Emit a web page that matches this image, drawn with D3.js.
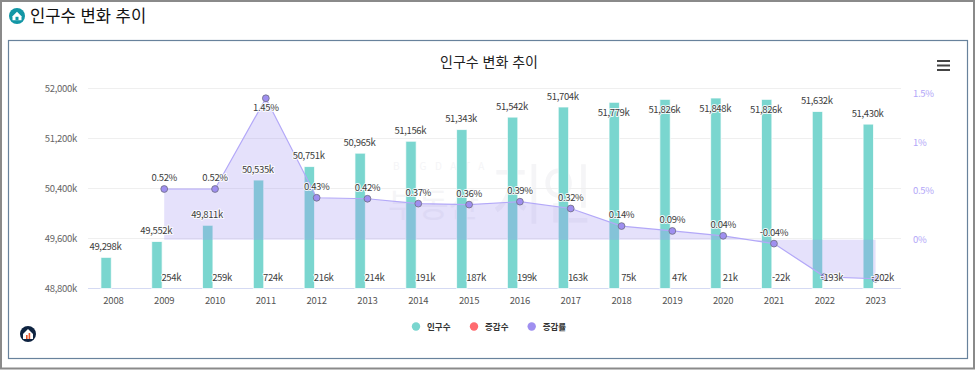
<!DOCTYPE html>
<html lang="ko">
<head>
<meta charset="utf-8">
<script src="https://cdnjs.cloudflare.com/ajax/libs/d3/7.8.5/d3.min.js"></script>
<style>
html,body{margin:0;padding:0;background:#fff;overflow:hidden}
svg{display:block}
text{font-family:"Noto Sans CJK KR","Noto Sans",sans-serif}
.lbl{font-size:9.5px;fill:#3d3d3d;letter-spacing:-.35px;text-anchor:middle;paint-order:stroke;stroke:#fff;stroke-width:2px;stroke-opacity:.85;stroke-linejoin:round}
</style>
</head>
<body>
<svg id="c" width="975" height="370"></svg>
<script>
const years = ["2008","2009","2010","2011","2012","2013","2014","2015","2016","2017","2018","2019","2020","2021","2022","2023"];
const population = [49298,49552,49811,50535,50751,50965,51156,51343,51542,51704,51779,51826,51848,51826,51632,51430];
const changeCount = [null,254,259,724,216,214,191,187,199,163,75,47,21,-22,-193,-202];
const changeRate = [null,0.52,0.52,1.45,0.43,0.42,0.37,0.36,0.39,0.32,0.14,0.09,0.04,-0.04,-0.38,-0.40];
const leftTicks = [48800,49600,50400,51200,52000];
const rightTicks = [0,0.5,1,1.5];
const legendNames = ["인구수","증감수","증감률"];
const legendColors = ["#7ad6cf","#ff6b6f","#9f8ff0"];
const pageTitle = "인구수 변화 추이";

const svg = d3.select("#c");
const pL=88, pR=901, pT=88.5, pB=288.5;
const x = d3.scaleBand().domain(years).range([pL,pR]);
const y = d3.scaleLinear().domain([48800,52000]).range([pB,pT]);
const yR = d3.scaleLinear().domain([-0.5,1.55]).range([pB,pT]);
const cx = d => x(d)+x.bandwidth()/2;

// frames
svg.append("rect").attr("x",1).attr("y",1).attr("width",973).attr("height",367.5).attr("fill","#fff").attr("stroke","#8a8a8a").attr("stroke-width",2);
svg.append("rect").attr("x",8.5).attr("y",40.5).attr("width",959).attr("height",318).attr("fill","#fff").attr("stroke","#68829c").attr("stroke-width",1.2);

// page heading + icon
const ic = svg.append("g").attr("transform","translate(17,16)");
ic.append("circle").attr("r",8).attr("fill","#1296a5");
ic.append("path").attr("d","M-4.5,0.2L0,-4.2L4.5,0.2V4.2H-4.5Z").attr("fill","#fff");
ic.append("rect").attr("x",-1.5).attr("y",0.8).attr("width",3).attr("height",3.4).attr("fill","#1296a5");
svg.append("text").attr("x",30).attr("y",22).attr("font-size",16.6).attr("fill","#111").text(pageTitle);

// chart title
svg.append("text").attr("x",489).attr("y",67).attr("text-anchor","middle").attr("font-size",14).attr("fill","#222").text(pageTitle);

// menu icon
[61,65.5,70].forEach(v=>svg.append("rect").attr("x",937).attr("y",v-1).attr("width",13).attr("height",2).attr("fill","#444"));

// watermark
const wm = svg.append("g").attr("fill","#f5f5f7");
wm.append("text").attr("x",393).attr("y",170).attr("font-size",10).attr("letter-spacing",8.5).text("BIGDATA");
wm.append("text").attr("x",388).attr("y",217).attr("font-size",33).text("부동산");
wm.append("text").attr("transform","translate(492,218) scale(1,1.15)").attr("font-size",56).attr("letter-spacing",-2).text("지인");

// gridlines and axes
const gl = d3.axisLeft(y).tickValues(leftTicks).tickSize(0).tickPadding(11).tickFormat(d=>d3.format(",")(d)+"k");
const gL = svg.append("g").attr("transform",`translate(${pL},0)`).call(gl);
gL.select(".domain").remove();
gL.selectAll("text").attr("font-size",9.5).attr("fill","#666").attr("letter-spacing","-.3px");
svg.append("g").selectAll("line").data(leftTicks).join("line")
  .attr("x1",pL).attr("x2",pR).attr("y1",y).attr("y2",y)
  .attr("stroke",d=>d===48800?"#d5daf3":"#efefef").attr("stroke-width",1.2);

const gb = d3.axisBottom(x).tickSize(0).tickPadding(9);
const gB = svg.append("g").attr("transform",`translate(0,${pB})`).call(gb);
gB.select(".domain").remove();
gB.selectAll("text").attr("font-size",9.5).attr("fill","#555").attr("letter-spacing","-.2px");

const gr = d3.axisRight(yR).tickValues(rightTicks).tickSize(0).tickPadding(12).tickFormat(d=>d+"%");
const gRt = svg.append("g").attr("transform",`translate(${pR},0)`).call(gr);
gRt.select(".domain").remove();
gRt.selectAll("text").attr("font-size",9.5).attr("fill","#b3a8f8").attr("dy","0.3em").attr("letter-spacing","-.3px");

// bars, with the thin pale outline seen in the reference
const barW = 10.4, barOff = -7.3, redOff = 7;
svg.append("g").selectAll("rect").data(years).join("rect")
  .attr("x",d=>cx(d)+barOff-barW/2).attr("width",barW)
  .attr("y",(d,i)=>y(population[i])).attr("height",(d,i)=>pB-y(population[i]))
  .attr("fill",legendColors[0]).attr("stroke","#fff").attr("stroke-opacity",.75).attr("stroke-width",1);

// rate area + line
const pts = years.map((d,i)=>({d,v:changeRate[i]})).filter(p=>p.v!==null);
svg.append("path").datum(pts)
  .attr("d",d3.area().x(p=>cx(p.d)).y0(yR(0)).y1(p=>yR(p.v)))
  .attr("fill","#9f8ff0").attr("fill-opacity",.27);
svg.append("path").datum(pts)
  .attr("d",d3.line().x(p=>cx(p.d)).y(p=>yR(p.v)))
  .attr("fill","none").attr("stroke","#b3a8f8").attr("stroke-width",1.2);
svg.append("g").selectAll("circle").data(pts).join("circle")
  .attr("cx",p=>cx(p.d)).attr("cy",p=>yR(p.v)).attr("r",3.4)
  .attr("fill","#9f8ff0").attr("stroke","#6d6d80").attr("stroke-width",.8);

// population labels (flip inside the bar when they would pass the top gridline)
svg.append("g").selectAll("text").data(years).join("text").attr("class","lbl")
  .attr("x",d=>cx(d)-8)
  .attr("y",(d,i)=>{const t=y(population[i]);return (t-11<94?t+10:t-11)+3.5;})
  .text((d,i)=>d3.format(",")(population[i])+"k");

// change-rate labels; the two lowest are hidden by the count labels in the reference
svg.append("g").selectAll("text").data(pts.filter(p=>p.v>-0.1)).join("text").attr("class","lbl")
  .attr("x",p=>cx(p.d)).attr("y",p=>{const t=yR(p.v);return (t-11<94?t+10:t-11)+3;})
  .text(p=>p.v.toFixed(2)+"%");

// change-count labels
const cnt = years.map((d,i)=>({d,v:changeCount[i]})).filter(p=>p.v!==null);
svg.append("g").selectAll("text").data(cnt).join("text").attr("class","lbl")
  .attr("x",p=>cx(p.d)+redOff).attr("y",280.5)
  .text(p=>p.v+"k");

// legend
const lgX = [416,474,531.7];
const lg = svg.append("g").selectAll("g").data(legendNames).join("g")
  .attr("transform",(d,i)=>`translate(${lgX[i]},326.5)`);
lg.append("circle").attr("r",4.2).attr("fill",(d,i)=>legendColors[i]);
lg.append("text").attr("x",11).attr("y",3).attr("font-size",8.5).attr("font-weight",700).attr("fill","#333").text(d=>d);

// corner logo
const lo = svg.append("g").attr("transform","translate(28,334)");
lo.append("circle").attr("r",8).attr("fill","#0e2340");
lo.append("path").attr("d","M-5,0L0,-5L5,0V5H-5Z").attr("fill","#fff");
lo.append("rect").attr("x",-2).attr("y",1).attr("width",1.6).attr("height",4).attr("fill","#e8562a");
lo.append("rect").attr("x",0.6).attr("y",-1).attr("width",1.6).attr("height",6).attr("fill","#e8562a");
</script>
</body>
</html>
